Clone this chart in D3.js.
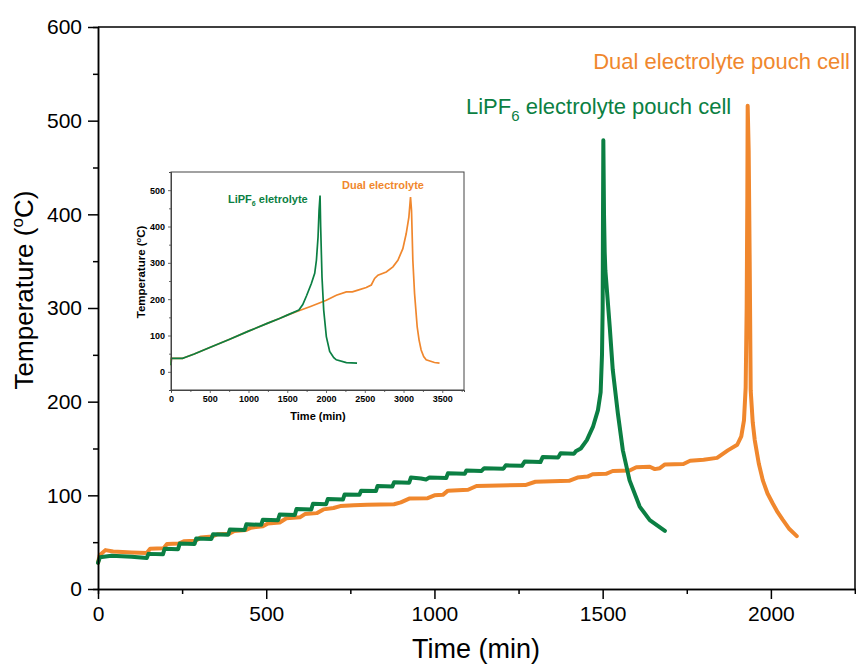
<!DOCTYPE html>
<html>
<head>
<meta charset="utf-8">
<script src="https://cdn.jsdelivr.net/npm/d3@7"></script>
<style>
    body { margin: 0; background: white; }
    svg { font-family: "Liberation Sans", Arial, sans-serif; }
</style>
</head>
<body>
<div id="chart"></div>
<script>
// main chart: [time (min), temperature (C)]
let lipf6Main = [[0,28],[6,34],[40,35.5],[100,34.5],[145,33],[150,37.5],[193,37],[198,43],[238,42.5],[243,48.5],[287,48],[292,54],[337,53.5],[342,58.5],[387,58],[392,63.5],[436,63],[441,69],[485,68.5],[490,74],[535,73.5],[540,79.5],[585,79],[590,85.5],[634,85],[639,91],[678,90.5],[683,96],[728,95.5],[733,101],[777,100.5],[782,105],[826,104.5],[831,110],[875,109.5],[880,114],[925,113.5],[930,119],[960,118],[975,117],[985,119],[1035,118.5],[1040,123.5],[1090,123],[1095,126.5],[1140,126],[1148,129],[1205,128.5],[1212,132],[1260,131.5],[1268,136],[1315,135.5],[1322,141],[1368,140.5],[1375,145],[1415,144.5],[1420,147],[1435,150],[1453,159],[1471,173],[1486,191],[1494,210],[1498,250],[1500,300],[1501,400],[1502,479],[1504,400],[1506,360],[1508,340],[1512,322],[1521,280],[1530,234],[1545,188],[1560,148],[1580,116],[1610,88],[1640,73.5],[1685,62]];

let dualMain = [[0,28],[5,36],[22,41.5],[45,40],[100,39],[145,38.5],[155,43],[195,43.5],[205,48],[240,48.5],[255,51],[290,51.5],[305,55],[340,56],[355,58.5],[390,59],[405,62],[440,63],[455,65.5],[490,67],[505,70],[540,71],[560,75.5],[600,76.5],[615,80],[650,81],[670,85],[700,86.5],[720,88.5],[760,89.5],[800,90],[880,90.5],[900,92.5],[925,96.5],[980,97],[1000,100],[1025,100.5],[1040,105],[1100,106],[1125,110],[1270,111],[1300,114.5],[1400,115.5],[1425,119],[1455,120],[1470,122.5],[1510,123],[1530,126],[1580,126.5],[1600,130],[1640,130.5],[1655,128],[1670,129],[1685,133],[1740,133.5],[1760,137],[1800,138],[1840,140],[1872,148],[1900,154],[1912,163],[1920,180],[1925,215],[1928,300],[1930,420],[1931,516],[1934,468],[1937,350],[1940,212],[1946,178],[1952,159],[1964,134],[1976,116],[1990,102],[2006,91],[2020,82],[2035,74],[2055,64],[2077,56.5]];

// inset chart
let lipf6Inset = [[0,18],[5,37],[150,37],[170,39],[300,49],[500,67],[750,89],[1000,112],[1250,134],[1400,147],[1500,156],[1650,170],[1700,185],[1750,210],[1811,243],[1854,271],[1876,307],[1897,371],[1910,444],[1923,485],[1931,398],[1948,261],[1970,170],[2004,97],[2047,56],[2100,39],[2133,33],[2262,25.6],[2400,24]];

let dualInset = [[0,18],[5,37],[150,37],[170,39],[300,49],[500,67],[750,89],[1000,112],[1250,134],[1400,147],[1500,156],[1650,168],[1800,180],[2004,197],[2133,211],[2262,220],[2340,220],[2412,225],[2519,232],[2584,239],[2627,257],[2670,266],[2777,275],[2863,289],[2927,307],[2991,339],[3034,380],[3069,426],[3090,481],[3103,444],[3120,307],[3142,216],[3176,124],[3200,88],[3227,60],[3260,42],[3292,33],[3399,25.6],[3464,24]];

let mainXTicks = [0, 500, 1000, 1500, 2000];
let mainYTicks = [0, 100, 200, 300, 400, 500, 600];
let insetXTicks = [0, 500, 1000, 1500, 2000, 2500, 3000, 3500];
let insetYTicks = [0, 100, 200, 300, 400, 500];

let green = "#0b7f43";
let orange = "#f0872d";

let svg = d3.select("#chart").append("svg")
    .attr("width", 856)
    .attr("height", 666);

// ---------- main chart ----------
let m = {left: 98, top: 27, right: 855, bottom: 589};

let x = d3.scaleLinear().domain([0, 2250]).range([m.left, m.right]);
let y = d3.scaleLinear().domain([0, 600]).range([m.bottom, m.top]);

let line = d3.line().x(d => x(d[0])).y(d => y(d[1]));

svg.append("path")
    .datum(dualMain)
    .attr("d", line)
    .attr("fill", "none")
    .attr("stroke", orange)
    .attr("stroke-width", 4)
    .attr("stroke-linejoin", "round")
    .attr("stroke-linecap", "round");

svg.append("path")
    .datum(lipf6Main)
    .attr("d", line)
    .attr("fill", "none")
    .attr("stroke", green)
    .attr("stroke-width", 4)
    .attr("stroke-linejoin", "round")
    .attr("stroke-linecap", "round");

// frame
svg.append("path")
    .attr("d", `M${m.left},${m.top}H${m.right}V${m.bottom}`)
    .attr("fill", "none")
    .attr("stroke", "black")
    .attr("stroke-width", 1.5);

let xAxis = svg.append("g")
    .attr("transform", `translate(0,${m.bottom})`)
    .call(d3.axisBottom(x).tickValues(mainXTicks).tickFormat(d3.format("d")).tickSize(10).tickSizeOuter(0).tickPadding(4));
svg.append("g")
    .attr("transform", `translate(0,${m.bottom})`)
    .call(d3.axisBottom(x).tickValues([250, 750, 1250, 1750, 2250]).tickSize(5).tickFormat(""));

let yAxis = svg.append("g")
    .attr("transform", `translate(${m.left},0)`)
    .call(d3.axisLeft(y).tickValues(mainYTicks).tickFormat(d3.format("d")).tickSize(10).tickSizeOuter(0).tickPadding(6));
svg.append("g")
    .attr("transform", `translate(${m.left},0)`)
    .call(d3.axisLeft(y).tickValues([50, 150, 250, 350, 450, 550]).tickSize(5).tickFormat(""));

svg.selectAll(".domain").attr("stroke-width", 1.5);
svg.selectAll(".tick line").attr("stroke-width", 1.5);
xAxis.selectAll("text").attr("font-size", 21).attr("font-family", "Liberation Sans, Arial").attr("dy", "0.85em");
yAxis.selectAll("text").attr("font-size", 21).attr("font-family", "Liberation Sans, Arial");

svg.append("text")
    .attr("x", 476)
    .attr("y", 658)
    .attr("text-anchor", "middle")
    .attr("font-size", 27)
    .text("Time (min)");

let yTitle = svg.append("text")
    .attr("transform", "translate(33,290) rotate(-90)")
    .attr("text-anchor", "middle")
    .attr("font-size", 26);
yTitle.append("tspan").text("Temperature (");
yTitle.append("tspan").attr("font-size", 17).attr("dy", -10).text("o");
yTitle.append("tspan").attr("dy", 10).text("C)");

svg.append("text")
    .attr("x", 850)
    .attr("y", 69)
    .attr("text-anchor", "end")
    .attr("font-size", 22)
    .attr("fill", orange)
    .text("Dual electrolyte pouch cell");

let gLabel = svg.append("text")
    .attr("x", 466)
    .attr("y", 114)
    .attr("font-size", 22)
    .attr("fill", green);
gLabel.append("tspan").text("LiPF");
gLabel.append("tspan").attr("font-size", 15).attr("dy", 7).text("6");
gLabel.append("tspan").attr("dy", -7).text(" electrolyte pouch cell");

// ---------- inset ----------
let n = {left: 171, top: 172, right: 464, bottom: 390};

let ix = d3.scaleLinear().domain([0, 3780]).range([n.left, n.right]);
let iy = d3.scaleLinear().domain([-50, 550]).range([n.bottom, n.top]);
let iline = d3.line().x(d => ix(d[0])).y(d => iy(d[1]));

let inset = svg.append("g").attr("class", "inset");

inset.append("rect")
    .attr("x", n.left)
    .attr("y", n.top)
    .attr("width", n.right - n.left)
    .attr("height", n.bottom - n.top)
    .attr("fill", "white")
    .attr("stroke", "#444")
    .attr("stroke-width", 1);

inset.append("path")
    .datum(dualInset)
    .attr("d", iline)
    .attr("fill", "none")
    .attr("stroke", orange)
    .attr("stroke-width", 1.7);

inset.append("path")
    .datum(lipf6Inset)
    .attr("d", iline)
    .attr("fill", "none")
    .attr("stroke", green)
    .attr("stroke-width", 1.7);

let ixAxis = inset.append("g")
    .attr("transform", `translate(0,${n.bottom})`)
    .call(d3.axisBottom(ix).tickValues(insetXTicks).tickFormat(d3.format("d")).tickSize(3).tickSizeOuter(0).tickPadding(3));
inset.append("g")
    .attr("transform", `translate(0,${n.bottom})`)
    .call(d3.axisBottom(ix).tickValues([250, 750, 1250, 1750, 2250, 2750, 3250, 3750]).tickSize(2).tickFormat(""));

let iyAxis = inset.append("g")
    .attr("transform", `translate(${n.left},0)`)
    .call(d3.axisLeft(iy).tickValues(insetYTicks).tickFormat(d3.format("d")).tickSize(3).tickSizeOuter(0).tickPadding(3));
inset.append("g")
    .attr("transform", `translate(${n.left},0)`)
    .call(d3.axisLeft(iy).tickValues([-50, 50, 150, 250, 350, 450, 550]).tickSize(2).tickFormat(""));

inset.selectAll(".domain").attr("stroke", "#444").attr("stroke-width", 1);
inset.selectAll(".tick line").attr("stroke", "#444").attr("stroke-width", 0.8);
inset.selectAll(".tick text").attr("font-size", 9).attr("font-weight", "bold").attr("font-family", "Liberation Sans, Arial");

inset.append("text")
    .attr("x", 318)
    .attr("y", 420)
    .attr("text-anchor", "middle")
    .attr("font-size", 11)
    .attr("font-weight", "bold")
    .text("Time (min)");

let iyTitle = inset.append("text")
    .attr("transform", "translate(145,272) rotate(-90)")
    .attr("text-anchor", "middle")
    .attr("font-size", 11.5)
    .attr("font-weight", "bold");
iyTitle.append("tspan").text("Temperature (");
iyTitle.append("tspan").attr("font-size", 7.5).attr("dy", -4).text("o");
iyTitle.append("tspan").attr("dy", 4).text("C)");

let igLabel = inset.append("text")
    .attr("x", 228)
    .attr("y", 203)
    .attr("font-size", 11)
    .attr("font-weight", "bold")
    .attr("fill", green);
igLabel.append("tspan").text("LiPF");
igLabel.append("tspan").attr("font-size", 7).attr("dy", 3).text("6");
igLabel.append("tspan").attr("dy", -3).text("  eletrolyte");

inset.append("text")
    .attr("x", 342)
    .attr("y", 189)
    .attr("font-size", 11)
    .attr("font-weight", "bold")
    .attr("fill", orange)
    .text("Dual electrolyte");
</script>
</body>
</html>
